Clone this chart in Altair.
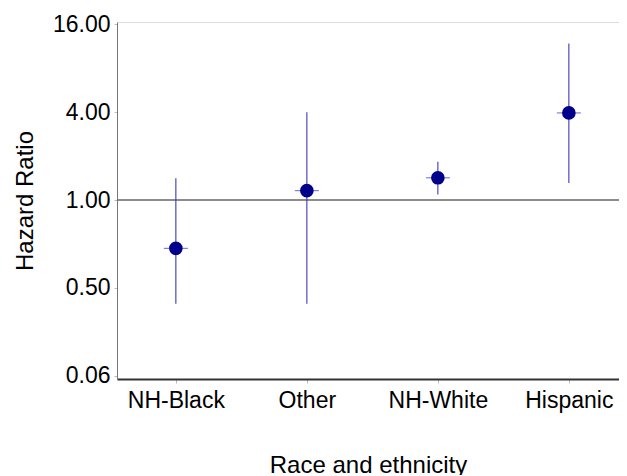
import altair as alt
import pandas as pd

groups = ["NH-Black", "Other", "NH-White", "Hispanic"]
hr = [0.467, 1.16, 1.42, 3.95]
lower = [0.195, 0.195, 1.09, 1.31]
upper = [1.41, 4.0, 1.83, 11.8]

tick_values = [0.0625, 0.25, 1, 4, 16]
tick_labels = ["0.06", "0.50", "1.00", "4.00", "16.00"]

df = pd.DataFrame({"group": groups, "hr": hr, "lower": lower, "upper": upper})
ref = pd.DataFrame({"y": [1.0]})

label_expr = " : ".join(
    f"datum.value == {v} ? '{l}'" for v, l in zip(tick_values, tick_labels)
) + " : ''"

ydom = [2 ** -4.07, 2 ** 4.05]
font = "Liberation Sans"

x_enc = alt.X(
    "group:N",
    sort=groups,
    title="Race and ethnicity",
    scale=alt.Scale(type="point", padding=0.416, align=0.54),
    axis=alt.Axis(
        labelFontSize=23, titleFontSize=24, labelFont=font, titleFont=font,
        titleFontWeight="normal",
        labelColor="#000000", titleColor="#000000", labelAngle=0,
        domainColor="#333333", domainWidth=2, tickColor="#bbbbbb", tickSize=4,
        labelPadding=6, titlePadding=41, grid=False,
    ),
)
y_scale = alt.Scale(type="log", base=2, domain=ydom, nice=False, clamp=True)
y_axis = alt.Axis(
    values=tick_values, labelExpr=label_expr,
    labelFontSize=23, titleFontSize=24, labelFont=font, titleFont=font,
    titleFontWeight="normal",
    labelColor="#000000", titleColor="#000000",
    domainColor="#777777", domainWidth=1, tickColor="#bbbbbb", tickSize=3,
    labelPadding=4, titlePadding=15, grid=False,
)

refline = alt.Chart(ref).mark_rule(color="#666666", strokeWidth=1.5).encode(
    y=alt.Y("y:Q", scale=y_scale, axis=y_axis, title="Hazard Ratio")
)

whisk = alt.Chart(df).mark_rule(color="#3a3ab8", strokeWidth=1.1).encode(
    x=x_enc,
    y=alt.Y("lower:Q", scale=y_scale),
    y2="upper:Q",
)

cap = alt.Chart(df).mark_tick(color="#3a3ab8", orient="horizontal", size=24, thickness=1.1).encode(
    x=x_enc,
    y=alt.Y("hr:Q", scale=y_scale),
)

pts = alt.Chart(df).mark_point(filled=True, color="#00008B", size=185, opacity=1, shape="circle").encode(
    x=x_enc,
    y=alt.Y("hr:Q", scale=y_scale),
)

chart = alt.layer(refline, whisk, cap, pts).properties(
    width=502, height=357,
    autosize=alt.AutoSizeParams(type="none"),
    padding={"left": 109, "top": 14, "right": 0, "bottom": 96},
).configure_view(stroke=None).configure(background="white")

chart.save("out.html", embed_options={"renderer": "svg", "actions": False})
